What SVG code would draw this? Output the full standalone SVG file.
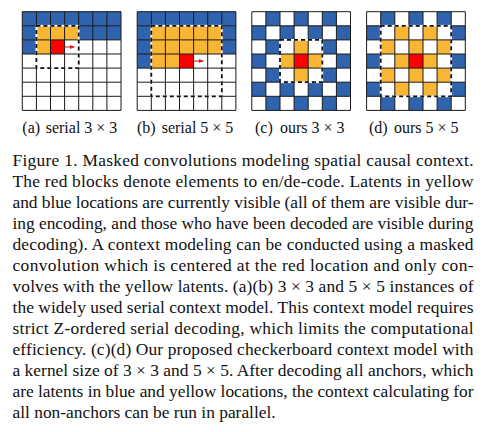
<svg xmlns="http://www.w3.org/2000/svg" xmlns:xlink="http://www.w3.org/1999/xlink" width="491" height="432" viewBox="0 0 491 432">
<style>
.gl{fill:none;stroke:#1a1a1a;stroke-width:1}
.dw{fill:none;stroke:#fff;stroke-width:1.8}
.dk{fill:none;stroke:#111;stroke-width:1.8;stroke-dasharray:4 3}
.ar{stroke:#e8141b;stroke-width:1.1;fill:none}
.sc{font-family:"Liberation Serif","Times New Roman",serif;font-size:16px;fill:#111}
.bt{font-family:"Liberation Serif","Times New Roman",serif;font-size:17.4px;fill:#111}
</style>
<defs>
<rect id="B" width="14.1" height="14.1" fill="#2F63AD"/>
<rect id="Y" width="14.1" height="14.1" fill="#F9B534"/>
<rect id="R" width="14.1" height="14.1" fill="#FF0000"/>
<path id="grid" d="M0 0H98.7M0 14.1H98.7M0 28.2H98.7M0 42.3H98.7M0 56.4H98.7M0 70.5H98.7M0 84.6H98.7M0 98.7H98.7M0 0V98.7M14.1 0V98.7M28.2 0V98.7M42.3 0V98.7M56.4 0V98.7M70.5 0V98.7M84.6 0V98.7M98.7 0V98.7"/>
<marker id="ah" markerWidth="5" markerHeight="5" refX="4.5" refY="2.5" orient="auto" markerUnits="userSpaceOnUse"><path d="M0,0.3 L5,2.5 L0,4.7 z" fill="#e8141b"/></marker>
</defs>
<rect width="491" height="432" fill="#fff"/>

<g id="grid-a" transform="translate(22.3,11.7)">
<rect x="0" y="0" width="98.7" height="14.1" fill="#2F63AD"/>
<use href="#B" x="0" y="14.1"/><use href="#B" x="0" y="28.2"/>
<rect x="56.4" y="14.1" width="42.3" height="14.1" fill="#2F63AD"/>
<rect x="14.1" y="14.1" width="42.3" height="14.1" fill="#F9B534"/>
<use href="#Y" x="14.1" y="28.2"/>
<use href="#R" x="28.2" y="28.2"/>
<use href="#grid" class="gl"/>
<rect class="dw" x="14.1" y="14.1" width="42.3" height="42.3"/>
<rect class="dk" x="14.1" y="14.1" width="42.3" height="42.3"/>
</g>

<g id="grid-b" transform="translate(137.2,11.7)">
<rect x="0" y="0" width="98.7" height="14.1" fill="#2F63AD"/>
<rect x="0" y="14.1" width="14.1" height="42.3" fill="#2F63AD"/>
<rect x="84.6" y="14.1" width="14.1" height="28.2" fill="#2F63AD"/>
<rect x="14.1" y="14.1" width="70.5" height="28.2" fill="#F9B534"/>
<rect x="14.1" y="42.3" width="28.2" height="14.1" fill="#F9B534"/>
<use href="#R" x="42.3" y="42.3"/>
<use href="#grid" class="gl"/>
<rect class="dw" x="14.1" y="14.1" width="70.5" height="70.5"/>
<rect class="dk" x="14.1" y="14.1" width="70.5" height="70.5"/>
</g>

<g id="grid-c" transform="translate(251.8,11.7)">
<use href="#B" x="14.1" y="0"/><use href="#B" x="42.3" y="0"/><use href="#B" x="70.5" y="0"/>
<use href="#B" x="0" y="14.1"/><use href="#B" x="28.2" y="14.1"/><use href="#B" x="56.4" y="14.1"/><use href="#B" x="84.6" y="14.1"/>
<use href="#B" x="14.1" y="28.2"/><use href="#Y" x="42.3" y="28.2"/><use href="#B" x="70.5" y="28.2"/>
<use href="#B" x="0" y="42.3"/><use href="#Y" x="28.2" y="42.3"/><use href="#R" x="42.3" y="42.3"/><use href="#Y" x="56.4" y="42.3"/><use href="#B" x="84.6" y="42.3"/>
<use href="#B" x="14.1" y="56.4"/><use href="#Y" x="42.3" y="56.4"/><use href="#B" x="70.5" y="56.4"/>
<use href="#B" x="0" y="70.5"/><use href="#B" x="28.2" y="70.5"/><use href="#B" x="56.4" y="70.5"/><use href="#B" x="84.6" y="70.5"/>
<use href="#B" x="14.1" y="84.6"/><use href="#B" x="42.3" y="84.6"/><use href="#B" x="70.5" y="84.6"/>
<use href="#grid" class="gl"/>
<rect class="dw" x="28.2" y="28.2" width="42.3" height="42.3"/>
<rect class="dk" x="28.2" y="28.2" width="42.3" height="42.3"/>
</g>

<g id="grid-d" transform="translate(366.6,11.7)">
<use href="#B" x="14.1" y="0"/><use href="#B" x="42.3" y="0"/><use href="#B" x="70.5" y="0"/>
<use href="#B" x="0" y="14.1"/><use href="#Y" x="28.2" y="14.1"/><use href="#Y" x="56.4" y="14.1"/><use href="#B" x="84.6" y="14.1"/>
<use href="#Y" x="14.1" y="28.2"/><use href="#Y" x="42.3" y="28.2"/><use href="#Y" x="70.5" y="28.2"/>
<use href="#B" x="0" y="42.3"/><use href="#Y" x="28.2" y="42.3"/><use href="#R" x="42.3" y="42.3"/><use href="#Y" x="56.4" y="42.3"/><use href="#B" x="84.6" y="42.3"/>
<use href="#Y" x="14.1" y="56.4"/><use href="#Y" x="42.3" y="56.4"/><use href="#Y" x="70.5" y="56.4"/>
<use href="#B" x="0" y="70.5"/><use href="#Y" x="28.2" y="70.5"/><use href="#Y" x="56.4" y="70.5"/><use href="#B" x="84.6" y="70.5"/>
<use href="#B" x="14.1" y="84.6"/><use href="#B" x="42.3" y="84.6"/><use href="#B" x="70.5" y="84.6"/>
<use href="#grid" class="gl"/>
<rect class="dw" x="14.1" y="14.1" width="70.5" height="70.5"/>
<rect class="dk" x="14.1" y="14.1" width="70.5" height="70.5"/>
</g>

<g id="connectors">
<line class="ar" x1="64.6" y1="46.95" x2="74.2" y2="46.95" marker-end="url(#ah)"/>
<line class="ar" x1="193.6" y1="61.05" x2="203.2" y2="61.05" marker-end="url(#ah)"/>
</g>

<g id="subcaptions">
<text class="sc" y="132.5"><tspan x="22.3">(a)</tspan><tspan x="45.7">serial 3 × 3</tspan></text>
<text class="sc" y="132.5"><tspan x="137">(b)</tspan><tspan x="161.7">serial 5 × 5</tspan></text>
<text class="sc" y="132.5"><tspan x="255">(c)</tspan><tspan x="280">ours 3 × 3</tspan></text>
<text class="sc" y="132.5"><tspan x="369">(d)</tspan><tspan x="394">ours 5 × 5</tspan></text>
</g>

<g id="caption">
<text class="bt" x="12.5" y="165.5" textLength="461" lengthAdjust="spacing">Figure 1. Masked convolutions modeling spatial causal context.</text>
<text class="bt" x="12.5" y="186.5" textLength="461" lengthAdjust="spacing">The red blocks denote elements to en/de-code. Latents in yellow</text>
<text class="bt" x="12.5" y="207.5" textLength="461" lengthAdjust="spacing">and blue locations are currently visible (all of them are visible dur-</text>
<text class="bt" x="12.5" y="228.5" textLength="461" lengthAdjust="spacing">ing encoding, and those who have been decoded are visible during</text>
<text class="bt" x="12.5" y="249.5" textLength="461" lengthAdjust="spacing">decoding). A context modeling can be conducted using a masked</text>
<text class="bt" x="12.5" y="270.5" textLength="461" lengthAdjust="spacing">convolution which is centered at the red location and only con-</text>
<text class="bt" x="12.5" y="291.5" textLength="461" lengthAdjust="spacing">volves with the yellow latents. (a)(b) 3 × 3 and 5 × 5 instances of</text>
<text class="bt" x="12.5" y="312.5" textLength="461" lengthAdjust="spacing">the widely used serial context model. This context model requires</text>
<text class="bt" x="12.5" y="333.5" textLength="461" lengthAdjust="spacing">strict Z-ordered serial decoding, which limits the computational</text>
<text class="bt" x="12.5" y="354.5" textLength="461" lengthAdjust="spacing">efficiency. (c)(d) Our proposed checkerboard context model with</text>
<text class="bt" x="12.5" y="375.5" textLength="461" lengthAdjust="spacing">a kernel size of 3 × 3 and 5 × 5. After decoding all anchors, which</text>
<text class="bt" x="12.5" y="396.5" textLength="461" lengthAdjust="spacing">are latents in blue and yellow locations, the context calculating for</text>
<text class="bt" x="12.5" y="417.5">all non-anchors can be run in parallel.</text>
</g>
</svg>
